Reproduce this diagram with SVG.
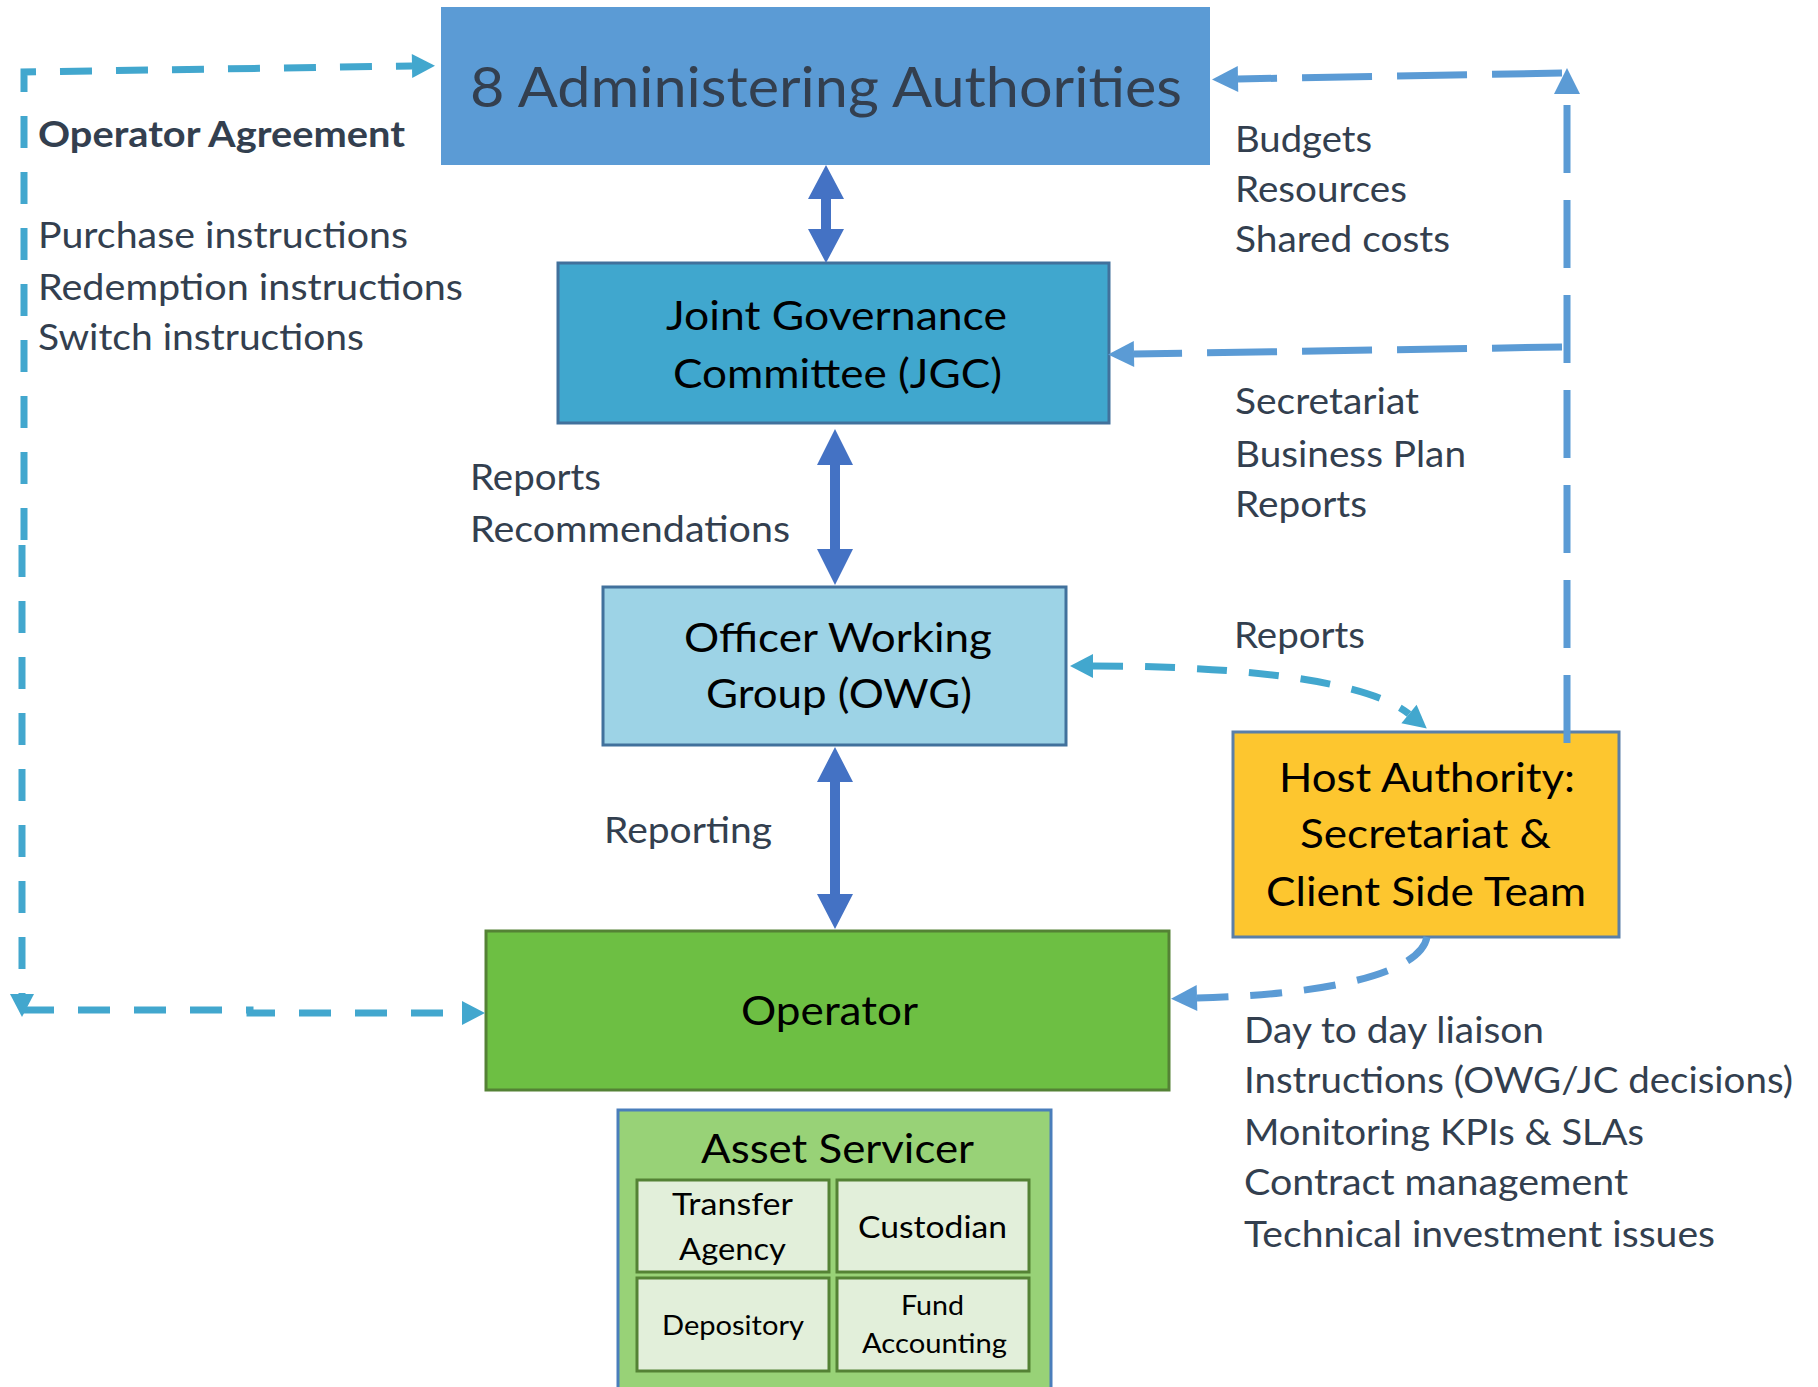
<svg xmlns="http://www.w3.org/2000/svg" width="1818" height="1387" viewBox="0 0 1818 1387">
<style>
text{font-family:Lato,"Liberation Sans",sans-serif;}
.lbl{font-size:37px;fill:#333F4F;}
.nt{font-size:40px;fill:#000;}
.dA{fill:none;stroke:#5B9BD5;stroke-width:7;}
.dB{fill:none;stroke:#42A7CE;stroke-width:7;}
.dbl{fill:#4472C4;}
</style>
<defs>
<marker id="hA" markerUnits="userSpaceOnUse" markerWidth="26" markerHeight="26" refX="0" refY="13" orient="auto-start-reverse" overflow="visible"><path d="M0,0 L26,13 L0,26 z" fill="#5B9BD5"/></marker>
<marker id="hB" markerUnits="userSpaceOnUse" markerWidth="23" markerHeight="24" refX="0" refY="12" orient="auto-start-reverse" overflow="visible"><path d="M0,0 L23,12 L0,24 z" fill="#42A7CE"/></marker>
</defs>
<rect width="1818" height="1387" fill="#fff"/>

<g id="admin">
<rect x="441" y="7" width="769" height="158" fill="#5B9BD5"/>
<text x="470" y="107" font-size="57" fill="#333F4F" textLength="712" lengthAdjust="spacingAndGlyphs">8 Administering Authorities</text>
</g>
<g id="jgc">
<rect x="558" y="263" width="551" height="160" fill="#40A7CE" stroke="#41719C" stroke-width="3"/>
<text class="nt" x="666" y="330" textLength="341" lengthAdjust="spacingAndGlyphs">Joint Governance</text>
<text class="nt" x="673" y="388" textLength="329" lengthAdjust="spacingAndGlyphs">Committee (JGC)</text>
</g>
<g id="owg">
<rect x="603" y="587" width="463" height="158" fill="#9DD3E6" stroke="#41719C" stroke-width="3"/>
<text class="nt" x="684" y="652" textLength="308" lengthAdjust="spacingAndGlyphs">Officer Working</text>
<text class="nt" x="706" y="708" textLength="266" lengthAdjust="spacingAndGlyphs">Group (OWG)</text>
</g>
<g id="operator">
<rect x="486" y="931" width="683" height="159" fill="#6DBF43" stroke="#548235" stroke-width="3"/>
<text class="nt" x="741" y="1025" textLength="177" lengthAdjust="spacingAndGlyphs">Operator</text>
</g>
<g id="host">
<rect x="1233" y="732" width="386" height="205" fill="#FDC62F" stroke="#5A7FA8" stroke-width="3"/>
<text class="nt" x="1279" y="792" textLength="296" lengthAdjust="spacingAndGlyphs">Host Authority:</text>
<text class="nt" x="1300" y="848" textLength="251" lengthAdjust="spacingAndGlyphs">Secretariat &amp;</text>
<text class="nt" x="1266" y="906" textLength="320" lengthAdjust="spacingAndGlyphs">Client Side Team</text>
</g>
<g id="asset">
<rect x="618" y="1110" width="433" height="300" fill="#98D277" stroke="#4A7EBB" stroke-width="3"/>
<text class="nt" x="701" y="1163" font-size="39" textLength="273" lengthAdjust="spacingAndGlyphs">Asset Servicer</text>
<g id="transfer">
<rect x="637" y="1180" width="192" height="92" fill="#E2EFDA" stroke="#548235" stroke-width="3"/>
<text x="672" y="1215" font-size="31" textLength="121" lengthAdjust="spacingAndGlyphs">Transfer</text>
<text x="679" y="1260" font-size="31" textLength="107" lengthAdjust="spacingAndGlyphs">Agency</text>
</g>
<g id="custodian">
<rect x="837" y="1180" width="192" height="92" fill="#E2EFDA" stroke="#548235" stroke-width="3"/>
<text x="858" y="1238" font-size="31" textLength="149" lengthAdjust="spacingAndGlyphs">Custodian</text>
</g>
<g id="depository">
<rect x="637" y="1278" width="192" height="93" fill="#E2EFDA" stroke="#548235" stroke-width="3"/>
<text x="662" y="1335" font-size="26" textLength="142" lengthAdjust="spacingAndGlyphs">Depository</text>
</g>
<g id="fund">
<rect x="837" y="1278" width="192" height="93" fill="#E2EFDA" stroke="#548235" stroke-width="3"/>
<text x="901" y="1315" font-size="26" textLength="63" lengthAdjust="spacingAndGlyphs">Fund</text>
<text x="862" y="1353" font-size="26" textLength="145" lengthAdjust="spacingAndGlyphs">Accounting</text>
</g>
</g>

<g id="connectors">
<path class="dbl" d="M826,165 L844,199 L831,199 L831,229 L844,229 L826,263 L808,229 L821,229 L821,199 L808,199 z"/>
<path class="dbl" d="M835,429 L853,465 L840,465 L840,549 L853,549 L835,585 L817,549 L830,549 L830,465 L817,465 z"/>
<path class="dbl" d="M835,747 L853,782 L840,782 L840,894 L853,894 L835,929 L817,894 L830,894 L830,782 L817,782 z"/>
<path class="dA" stroke-dasharray="68 27" d="M1567,743 L1567,94" marker-end="url(#hA)"/>
<path class="dA" stroke-dasharray="70 25" d="M1562,73 L1238,79" marker-end="url(#hA)"/>
<path class="dA" stroke-dasharray="70 25" d="M1562,347 L1134,354" marker-end="url(#hA)"/>
<path class="dA" stroke-dasharray="32 22" d="M1427,937 C1420,975 1320,995 1197,998" marker-end="url(#hA)"/>
<path class="dB" stroke-dasharray="32 24" d="M24,540 L24,72 L412,66" marker-end="url(#hB)"/>
<path class="dB" stroke-dasharray="32 24" d="M22,545 L22,994" marker-end="url(#hB)"/>
<path class="dB" stroke-dasharray="32 24" d="M22,1010 L250,1010 L250,1013 L462,1013" marker-end="url(#hB)"/>
<path class="dB" stroke-dasharray="30 22" d="M1093,666 C1250,666 1370,682 1409,714" marker-start="url(#hB)" marker-end="url(#hB)"/>
</g>

<g id="labels">
<text class="lbl" x="38" y="147" font-weight="bold" textLength="367" lengthAdjust="spacingAndGlyphs">Operator Agreement</text>
<text class="lbl" x="38" y="248" textLength="370" lengthAdjust="spacingAndGlyphs">Purchase instructions</text>
<text class="lbl" x="38" y="300" textLength="425" lengthAdjust="spacingAndGlyphs">Redemption instructions</text>
<text class="lbl" x="38" y="350" textLength="326" lengthAdjust="spacingAndGlyphs">Switch instructions</text>
<text class="lbl" x="1235" y="152" textLength="137" lengthAdjust="spacingAndGlyphs">Budgets</text>
<text class="lbl" x="1235" y="202" textLength="172" lengthAdjust="spacingAndGlyphs">Resources</text>
<text class="lbl" x="1235" y="252" textLength="215" lengthAdjust="spacingAndGlyphs">Shared costs</text>
<text class="lbl" x="1235" y="414" textLength="184" lengthAdjust="spacingAndGlyphs">Secretariat</text>
<text class="lbl" x="1235" y="467" textLength="231" lengthAdjust="spacingAndGlyphs">Business Plan</text>
<text class="lbl" x="1235" y="517" textLength="132" lengthAdjust="spacingAndGlyphs">Reports</text>
<text class="lbl" x="1234" y="648" textLength="131" lengthAdjust="spacingAndGlyphs">Reports</text>
<text class="lbl" x="470" y="490" textLength="131" lengthAdjust="spacingAndGlyphs">Reports</text>
<text class="lbl" x="470" y="542" textLength="320" lengthAdjust="spacingAndGlyphs">Recommendations</text>
<text class="lbl" x="604" y="843" textLength="168" lengthAdjust="spacingAndGlyphs">Reporting</text>
<text class="lbl" x="1244" y="1043" textLength="300" lengthAdjust="spacingAndGlyphs">Day to day liaison</text>
<text class="lbl" x="1244" y="1093" textLength="549" lengthAdjust="spacingAndGlyphs">Instructions (OWG/JC decisions)</text>
<text class="lbl" x="1244" y="1145" textLength="400" lengthAdjust="spacingAndGlyphs">Monitoring KPIs &amp; SLAs</text>
<text class="lbl" x="1244" y="1195" textLength="384" lengthAdjust="spacingAndGlyphs">Contract management</text>
<text class="lbl" x="1244" y="1247" textLength="471" lengthAdjust="spacingAndGlyphs">Technical investment issues</text>
</g>
</svg>
